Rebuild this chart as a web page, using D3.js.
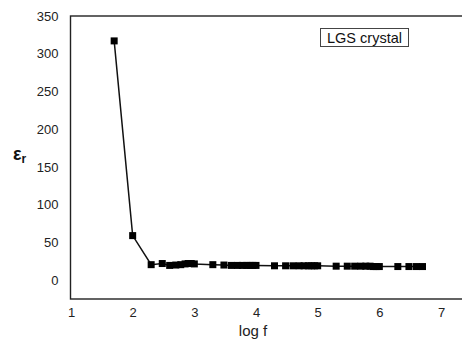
<!DOCTYPE html>
<html>
<head>
<meta charset="utf-8">
<script src="https://cdn.jsdelivr.net/npm/d3@7"></script>
<style>
body { margin: 0; background: #fff; }
text { font-family: "Liberation Sans", Arial, sans-serif; }
</style>
</head>
<body>
<div id="chart"></div>
<script>
const ancho = 462
const alto = 341
const margen = { izquierdo: 71, derecho: -10, superior: 16, inferior: 42 }

// datos
const logF = [1.7, 2.0, 2.3, 2.48,
    2.6, 2.7, 2.78, 2.85, 2.9, 2.95, 3.0,
    3.3, 3.48, 3.6, 3.7, 3.78, 3.85, 3.9, 3.95, 4.0,
    4.3, 4.48, 4.6, 4.7, 4.78, 4.85, 4.9, 4.95, 5.0,
    5.3, 5.48, 5.6, 5.7, 5.78, 5.85, 5.9, 5.95, 6.0,
    6.3, 6.48, 6.6, 6.7]
const epsilon = [317, 59, 20.5, 22,
    19.5, 20, 20.5, 21.5, 22, 22, 21.5,
    20.5, 20, 19.5, 19.5, 19.5, 19.5, 19.5, 19.5, 19.5,
    19, 19, 19, 19, 19, 19, 19, 19, 19,
    18.5, 18.5, 18.5, 18.5, 18.5, 18.5, 18, 18, 18,
    18, 18, 18, 18]
const ticksX = [1, 2, 3, 4, 5, 6, 7]
const ticksY = [0, 50, 100, 150, 200, 250, 300, 350]

const datos = logF.map((f, i) => ({ f: f, e: epsilon[i] }))

const svg = d3.select("#chart").append("svg").attr("width", ancho).attr("height", alto)

const x = d3.scaleLinear().domain([1, 7]).range([margen.izquierdo, 441])
const y = d3.scaleLinear().domain([-25, 350]).range([alto - margen.inferior, margen.superior])

// marco del área de trazado (el borde derecho queda fuera de la imagen)
svg.append("rect")
    .attr("x", x(1) - 0.5).attr("y", y(350))
    .attr("width", 480 - x(1)).attr("height", y(-25) - y(350))
    .attr("fill", "none").attr("stroke", "#222").attr("stroke-width", 1.4)

const ejeX = d3.axisBottom(x).tickValues(ticksX).tickSize(0).tickPadding(9).tickFormat(d3.format("d"))
const ejeY = d3.axisLeft(y).tickValues(ticksY).tickSize(0).tickPadding(12)

const grupoX = svg.append("g").attr("transform", `translate(0, ${y(-25)})`).call(ejeX)
const grupoY = svg.append("g").attr("transform", `translate(${x(1) - 0.5}, 0)`).call(ejeY)
grupoX.select(".domain").remove()
grupoY.select(".domain").remove()
svg.selectAll(".tick text").attr("font-size", 13).attr("fill", "#222")
    .style("font-family", "'Liberation Sans', Arial, sans-serif")

// línea y marcadores
const linea = d3.line().x(d => x(d.f)).y(d => y(d.e))
svg.append("path").datum(datos).attr("d", linea)
    .attr("fill", "none").attr("stroke", "#111").attr("stroke-width", 1.5)

svg.selectAll("rect.punto").data(datos).enter().append("rect")
    .attr("class", "punto")
    .attr("x", d => x(d.f) - 3.5).attr("y", d => y(d.e) - 3.5)
    .attr("width", 7).attr("height", 7).attr("fill", "#000")

// títulos de ejes
svg.append("text").attr("x", (x(1) + x(7)) / 2 - 3).attr("y", 336)
    .attr("text-anchor", "middle").attr("font-size", 15).attr("fill", "#222").text("log f")

const etiquetaY = svg.append("text").attr("x", 13).attr("y", 160)
    .attr("font-family", "'Liberation Serif', 'Times New Roman', serif")
    .attr("font-weight", "bold").attr("font-size", 18).attr("fill", "#111")
etiquetaY.append("tspan").text("ε")
etiquetaY.append("tspan").attr("font-size", 12).attr("dy", 3).text("r")

// leyenda
svg.append("rect").attr("x", 320.5).attr("y", 28.5).attr("width", 88).attr("height", 18)
    .attr("fill", "#fff").attr("stroke", "#444").attr("stroke-width", 1)
svg.append("text").attr("x", 364.5).attr("y", 43).attr("text-anchor", "middle")
    .attr("font-size", 14.5).attr("fill", "#111").text("LGS crystal")
</script>
</body>
</html>
